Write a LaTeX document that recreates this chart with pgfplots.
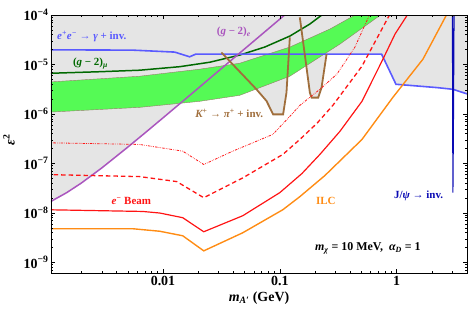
\documentclass[border=0pt]{standalone}
\usepackage{fontspec}
\setmainfont{Liberation Serif}
\usepackage{pgfplots}
\pgfplotsset{compat=1.18}
\definecolor{exgray}{RGB}{229,229,229}
\definecolor{bandgreen}{RGB}{85,250,85}
\definecolor{bandedge}{RGB}{150,125,105}
\definecolor{gmu}{RGB}{0,105,0}
\definecolor{babar}{RGB}{90,90,255}
\definecolor{ge}{RGB}{170,85,190}
\definecolor{kaon}{RGB}{160,110,60}
\definecolor{beamred}{RGB}{255,20,20}
\definecolor{ilc}{RGB}{255,140,20}
\definecolor{jpsi}{RGB}{10,10,180}
\newcommand{\lbl}{\fontsize{11}{11}\selectfont\bfseries}
\begin{document}
\begin{tikzpicture}
\begin{axis}[name=ax,
  xmode=log, ymode=log,
  scale only axis, width=416bp, height=258bp,
  xmin=0.0011, xmax=4, ymin=6.1e-10, ymax=1e-4,
  xtick={0.01,0.1,1}, xticklabels={0.01,0.1,1},
  minor xtick={0.002,0.003,0.004,0.005,0.006,0.007,0.008,0.009,0.02,0.03,0.04,0.05,0.06,0.07,0.08,0.09,0.2,0.3,0.4,0.5,0.6,0.7,0.8,0.9,2,3,4},
  ytick={1e-9,1e-8,1e-7,1e-6,1e-5,1e-4},
  yticklabels={10\textsuperscript{−9},10\textsuperscript{−8},10\textsuperscript{−7},10\textsuperscript{−6},10\textsuperscript{−5},10\textsuperscript{−4}},
  minor ytick={7e-10,8e-10,9e-10,2e-9,3e-9,4e-9,5e-9,6e-9,7e-9,8e-9,9e-9,2e-8,3e-8,4e-8,5e-8,6e-8,7e-8,8e-8,9e-8,2e-7,3e-7,4e-7,5e-7,6e-7,7e-7,8e-7,9e-7,2e-6,3e-6,4e-6,5e-6,6e-6,7e-6,8e-6,9e-6,2e-5,3e-5,4e-5,5e-5,6e-5,7e-5,8e-5,9e-5},
  tick label style={font=\fontsize{14}{14}\selectfont\bfseries},
  yticklabel style={xshift=1bp},
  major tick length=4bp, minor tick length=2.5bp,
  tick style={black, line width=0.5pt},
  axis line style={black, line width=0.9pt},
  axis on top,
  xlabel={\bfseries\itshape m\textsubscript{A′}\upshape\ (GeV)},
  xlabel style={font=\fontsize{14}{14}\selectfont\bfseries, at={(axis description cs:0.5,-0.097)}, anchor=center},
  ylabel={\bfseries\itshape ε\upshape\textsuperscript{2}},
  ylabel style={font=\fontsize{14}{14}\selectfont\bfseries, at={(axis description cs:-0.101,0.516)}, anchor=center, rotate=0},
]
% excluded (gray) regions
\addplot[fill=exgray, draw=none] coordinates {(0.001,1.98e-5)(0.0055,1.95e-5)(0.0126,1.78e-5)(0.0169,1.43e-5)(0.0191,1.62e-5)(0.7431,1.62e-5)(0.9863,3.98e-6)(2.213,3.41e-6)(3.034,3.15e-6)(4.2,2.5e-6)(4.2,2e-4)(0.001,2e-4)} -- cycle;
\addplot[fill=exgray, draw=none] coordinates {(0.0010,1.55e-8)(0.0011,1.71e-8)(0.0015,2.57e-8)(0.002,4.01e-8)(0.003,8.14e-8)(0.005,2.14e-7)(0.007,4.12e-7)(0.01,8.33e-7)(0.02,3.31e-6)(0.05,2.07e-5)(0.08,5.29e-5)(0.11,1.0e-4)(0.12,1.19e-4)(0.12,2e-4)(0.001,2e-4)} -- cycle;
\addplot[fill=exgray, draw=none] coordinates {(0.03162,1.75e-5)(0.0631,3.15e-6)(0.0769,1.83e-6)(0.0877,9.81e-7)(0.1067,9.81e-7)(0.1140,2.70e-6)(0.1218,3.53e-5)(0.1218,2e-4)(0.03162,2e-4)} -- cycle;
\addplot[fill=exgray, draw=none] coordinates {(0.1483,8.98e-5)(0.1808,2.70e-6)(0.1870,2.14e-6)(0.2130,2.14e-6)(0.2275,3.41e-6)(0.2512,1.62e-5)(0.2512,2e-4)(0.1483,2e-4)} -- cycle;
% (g-2)_mu favoured band
\addplot[fill=bandgreen, draw=none] coordinates {(0.001,4.38e-6)(0.00631,5.79e-6)(0.02061,8.03e-6)(0.04539,1.06e-5)(0.1218,2.25e-5)(0.2681,5.20e-5)(0.4571,1.048e-4)(0.7482,1.048e-4)(0.3266,2.58e-5)(0.1218,5.79e-6)(0.04539,2.38e-6)(0.02061,1.80e-6)(0.00631,1.36e-6)(0.001,1.08e-6)} -- cycle;
\addplot[bandedge, line width=0.4pt] coordinates {(0.001,4.38e-6)(0.00631,5.79e-6)(0.02061,8.03e-6)(0.04539,1.06e-5)(0.1218,2.25e-5)(0.2681,5.20e-5)(0.4571,1.048e-4)};
\addplot[bandedge, line width=0.4pt] coordinates {(0.001,1.08e-6)(0.00631,1.36e-6)(0.02061,1.80e-6)(0.04539,2.38e-6)(0.1218,5.79e-6)(0.3266,2.58e-5)(0.7482,1.048e-4)};
% (g-2)_mu exclusion
\addplot[gmu, line width=1.5pt] coordinates {(0.001,6.6e-6)(0.002871,7.14e-6)(0.00631,7.66e-6)(0.0139,9.02e-6)(0.02512,1.11e-5)(0.04539,1.55e-5)(0.0743,2.25e-5)(0.1218,3.75e-5)(0.1808,6.57e-5)(0.235,1.048e-4)};
% BaBar e+e- -> gamma + inv
\addplot[babar, line width=1.6pt] coordinates {(0.001,1.98e-5)(0.0055,1.95e-5)(0.0126,1.78e-5)(0.0169,1.43e-5)(0.0191,1.62e-5)(0.7431,1.62e-5)(0.9863,3.98e-6)(2.213,3.41e-6)(3.034,3.15e-6)(4.2,2.45e-6)};
% (g-2)_e
\addplot[ge, line width=1.5pt] coordinates {(0.0010,1.55e-8)(0.0011,1.71e-8)(0.0015,2.57e-8)(0.002,4.01e-8)(0.003,8.14e-8)(0.005,2.14e-7)(0.007,4.12e-7)(0.01,8.33e-7)(0.02,3.31e-6)(0.05,2.07e-5)(0.08,5.29e-5)(0.11,1.0e-4)(0.12,1.19e-4)};
% K+ -> pi+ + inv
\addplot[kaon, line width=1.8pt] coordinates {(0.03162,1.75e-5)(0.0631,3.15e-6)(0.0769,1.83e-6)(0.0877,9.81e-7)(0.1067,9.81e-7)(0.1140,2.70e-6)(0.1218,3.53e-5)};
\addplot[kaon, line width=1.8pt] coordinates {(0.1483,8.98e-5)(0.1808,2.70e-6)(0.1870,2.14e-6)(0.2130,2.14e-6)(0.2275,3.41e-6)(0.2512,1.62e-5)};
% electron beam projections
\addplot[beamred, line width=0.8pt, dash pattern=on 2.5pt off 1.2pt on 0.6pt off 1.2pt on 0.6pt off 1.2pt] coordinates {(0.001,2.62e-7)(0.00631,2.42e-7)(0.01476,1.77e-7)(0.02233,9.51e-8)(0.03953,1.77e-7)(0.0871,3.86e-7)(0.1218,8.93e-7)(0.1483,1.49e-6)(0.2202,3.15e-6)(0.3078,6.36e-6)(0.4395,2.25e-5)(0.5902,1.048e-4)};
\addplot[beamred, line width=1.3pt, dash pattern=on 4.5pt off 3pt] coordinates {(0.001,5.96e-8)(0.00631,5.42e-8)(0.0131,4.30e-8)(0.02233,2.03e-8)(0.04817,5.10e-8)(0.1061,1.52e-7)(0.1483,3.05e-7)(0.2075,6.44e-7)(0.2843,1.49e-6)(0.5047,9.24e-6)(0.877,1.048e-4)};
\addplot[beamred, line width=1.2pt] coordinates {(0.001,1.16e-8)(0.006699,1.07e-8)(0.009376,9.95e-9)(0.01476,8.0e-9)(0.02233,4.16e-9)(0.04817,8.77e-9)(0.1,2.57e-8)(0.1545,6.24e-8)(0.2202,1.52e-7)(0.3266,4.44e-7)(0.5047,1.80e-6)(0.7631,1.28e-5)(0.9683,4.12e-5)(1.25,1.048e-4)};
% ILC
\addplot[ilc, line width=1.4pt] coordinates {(0.001,4.79e-9)(0.005495,4.79e-9)(0.009376,4.26e-9)(0.01476,3.45e-9)(0.02233,1.71e-9)(0.04817,3.97e-9)(0.1061,1.16e-8)(0.1483,2.13e-8)(0.2430,5.69e-8)(0.5047,3.05e-7)(0.9290,2.17e-6)(1.679,1.28e-5)(2.697,1.048e-4)};
% J/psi -> inv
\addplot[jpsi, line width=1.1pt] coordinates {(3.0,1.2e-4)(3.03,2.57e-8)(3.06,5.35e-7)(3.1,1.2e-4)};
% labels
\node[babar, anchor=west, font=\lbl] at (axis cs:0.00116,3.66e-5) {\bfseries\itshape e\textsuperscript{+}e\textsuperscript{−}\upshape\ → \itshape γ\upshape\ + inv.};
\node[gmu, anchor=west, font=\lbl] at (axis cs:0.001585,1.06e-5) {\bfseries(\itshape g\upshape\ − 2)\textsubscript{\itshape μ}};
\node[ge, font=\lbl] at (axis cs:0.0404,4.52e-5) {\bfseries(\itshape g\upshape\ − 2)\textsubscript{\itshape e}};
\node[kaon, font=\lbl] at (axis cs:0.0369,1.03e-6) {\bfseries\itshape K\upshape\textsuperscript{+} → \itshape π\upshape\textsuperscript{+} + inv.};
\node[beamred, font=\lbl] at (axis cs:0.00536,1.77e-8) {\bfseries\itshape e\upshape\textsuperscript{−} Beam};
\node[ilc, font=\lbl] at (axis cs:0.2477,1.77e-8) {\bfseries ILC};
\node[jpsi, anchor=east, font=\lbl] at (axis cs:2.68,2.23e-8) {\bfseries J/\itshape ψ\upshape\ → inv.};
\node[black, font=\fontsize{12}{12}\selectfont\bfseries] at (axis cs:0.5675,1.94e-9) {\bfseries\itshape m\textsubscript{χ}\upshape\ = 10 MeV,\ \ \itshape α\textsubscript{D}\upshape\ = 1};
\end{axis}
\pgfresetboundingbox
\path[use as bounding box] ([shift={(-51bp,-37bp)}]ax.south west) rectangle ([shift={(2bp,15bp)}]ax.north east);
\end{tikzpicture}
\end{document}
